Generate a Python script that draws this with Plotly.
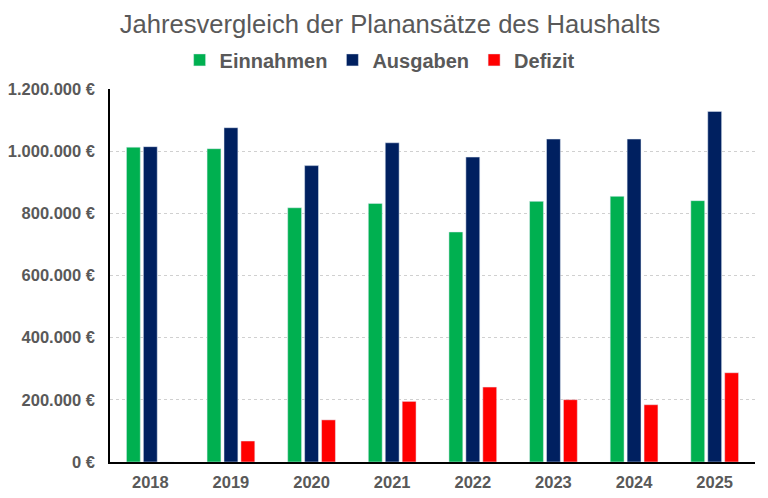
import plotly.graph_objects as go

years = ["2018", "2019", "2020", "2021", "2022", "2023", "2024", "2025"]
einnahmen = [1013000, 1008000, 818000, 832000, 740000, 838500, 854700, 840800]
ausgaben = [1014500, 1075500, 953500, 1027000, 981000, 1039000, 1039000, 1128000]
defizit = [0, 67500, 135500, 195000, 241000, 200500, 184300, 287200]

y_tick_values = [0, 200000, 400000, 600000, 800000, 1000000, 1200000]
y_tick_labels = ["0 €", "200.000 €", "400.000 €", "600.000 €", "800.000 €",
                 "1.000.000 €", "1.200.000 €"]

fig = go.Figure()
fig.add_trace(go.Bar(name="Einnahmen", x=years, y=einnahmen, marker_color="#00B050"))
fig.add_trace(go.Bar(name="Ausgaben", x=years, y=ausgaben, marker_color="#002060"))
fig.add_trace(go.Bar(name="Defizit", x=years, y=defizit, marker_color="#FF0000"))

# page body has an 8px margin; figure sized/offset to compensate
fig.update_layout(
    width=752, height=482,
    paper_bgcolor="white", plot_bgcolor="white",
    barmode="group", bargap=0.37, bargroupgap=0.18,
    margin=dict(l=102, r=5, t=81, b=28, autoexpand=False),
    font=dict(family="Liberation Sans, Arial, sans-serif", color="#595959"),
    title=dict(text="Jahresvergleich der Planansätze des Haushalts",
               x=0.508, xanchor="center", y=0.967, yanchor="middle",
               font=dict(size=25.6, color="#595959")),
    legend=dict(orientation="h", x=0.418, xanchor="center", y=1.078, yanchor="middle",
                font=dict(size=20, color="#595959", weight="bold"),
                itemwidth=30, tracegroupgap=0),
    showlegend=True,
)
fig.update_yaxes(range=[0, 1200000], tickvals=y_tick_values, ticktext=y_tick_labels,
                 showgrid=True, gridcolor="#D0D0D0", griddash="dot", gridwidth=1,
                 showline=True, linecolor="black", linewidth=1.5, zeroline=False,
                 tickfont=dict(size=16.5, color="#595959", weight="bold"), ticks="",
                 ticklabelstandoff=10, automargin=False)
fig.update_xaxes(showline=True, linecolor="black", linewidth=1.5, ticks="",
                 tickfont=dict(size=16.5, color="#595959", weight="bold"),
                 ticklabelstandoff=4, automargin=False)

fig.write_html("out.html")
